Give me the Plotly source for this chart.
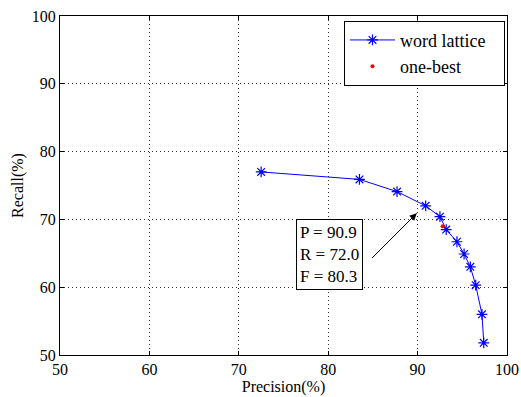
import plotly.graph_objects as go

precision = [72.5, 83.5, 87.7, 90.9, 92.5, 93.2, 94.4, 95.2, 95.9, 96.5, 97.2, 97.4]
recall = [77.0, 75.9, 74.1, 72.0, 70.4, 68.5, 66.7, 64.9, 63.0, 60.3, 56.0, 51.8]
onebest_p = [92.8]
onebest_r = [69.0]
ticks = [50, 60, 70, 80, 90, 100]

# annotation: arrow tail/tip and text box position (data coords)
arrow_tail = (84.9, 64.3)
arrow_tip = (89.9, 70.9)
note_pos = (80.1, 64.8)
note_text = "P = 90.9<br>R = 72.0<br>F = 80.3"

FONT = "Liberation Serif"
NB = "\u00a0"

fig = go.Figure()
fig.add_trace(go.Scatter(
    x=precision, y=recall, mode="lines+markers", name="word lattice" + NB * 3,
    line=dict(color="#0000ff", width=1),
    marker=dict(symbol="asterisk-open", size=9, color="#0000ff",
                line=dict(color="#0000ff", width=1.2)),
))
fig.add_trace(go.Scatter(
    x=onebest_p, y=onebest_r, mode="markers", name="one-best",
    marker=dict(symbol="circle", size=4, color="#ff0000"),
))

# arrow shaft
fig.add_shape(type="line", xref="x", yref="y",
              x0=arrow_tail[0], y0=arrow_tail[1], x1=arrow_tip[0], y1=arrow_tip[1],
              line=dict(color="black", width=1))
# arrow head
fig.add_annotation(x=arrow_tip[0], y=arrow_tip[1], ax=arrow_tail[0], ay=arrow_tail[1],
                   axref="x", ayref="y", xref="x", yref="y", text="", showarrow=True,
                   font=dict(size=1), borderpad=0,
                   arrowhead=2, arrowsize=1.4, arrowwidth=1, arrowcolor="black")
# text box
fig.add_annotation(x=note_pos[0], y=note_pos[1], xref="x", yref="y",
                   text=note_text, showarrow=False, align="left",
                   font=dict(family=FONT, size=17, color="black"),
                   bgcolor="white", bordercolor="black", borderwidth=1, borderpad=3)

axis_common = dict(
    tickvals=ticks, ticks="inside", ticklen=4, tickcolor="black",
    showline=True, linecolor="black", linewidth=1, mirror="ticks",
    showgrid=True, gridcolor="#333333", griddash="1px,3px", gridwidth=1,
    zeroline=False, automargin=False,
    tickfont=dict(family=FONT, size=16, color="black"),
)
fig.update_xaxes(range=[50, 100], title=dict(text="Precision(%)", standoff=0,
                 font=dict(family=FONT, size=16, color="black")), **axis_common)
fig.update_yaxes(range=[50, 100], title=dict(text="Recall(%)", standoff=4,
                 font=dict(family=FONT, size=16, color="black")), **axis_common)

fig.update_layout(
    width=521, height=397,
    margin=dict(l=60, r=14, t=16, b=42),
    plot_bgcolor="white", paper_bgcolor="white",
    showlegend=True,
    legend=dict(x=0.9955, y=0.986, xanchor="right", yanchor="top",
                bordercolor="black", borderwidth=1, bgcolor="white",
                font=dict(family=FONT, size=18, color="black"),
                itemwidth=45, tracegroupgap=0),
)

fig.write_html("out.html", config={"displayModeBar": False},
               post_script="document.body.style.margin='0';")
